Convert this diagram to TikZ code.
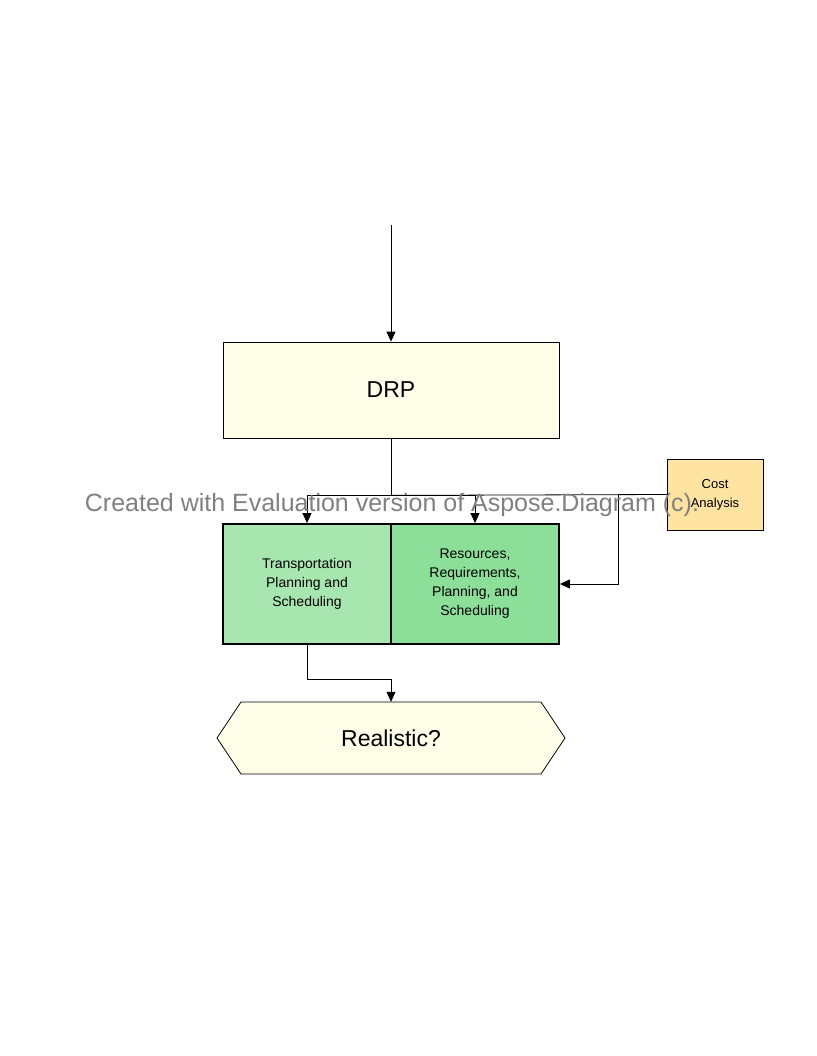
\documentclass[tikz,border=0pt]{standalone}
\usepackage{fontspec}
\setmainfont{Liberation Sans}
\usetikzlibrary{arrows.meta}
\definecolor{paleyellow}{HTML}{FEFEE8}
\definecolor{costorange}{HTML}{FFE3A0}
\definecolor{tgreen}{HTML}{A8E6B0}
\definecolor{rgreen}{HTML}{8CDF98}
\definecolor{wmgray}{HTML}{808080}
\tikzset{
  arr/.style={draw=black, line width=0.8pt, -{Triangle[length=10pt,width=9pt]}},
  conn/.style={draw=black, line width=0.8pt},
  thinbox/.style={draw=black, line width=0.8pt, inner sep=0pt, align=center},
  greenbox/.style={draw=black, line width=1.8pt, inner sep=0pt, align=center,
    minimum width=168pt, minimum height=120pt, font=\fontsize{14}{19}\selectfont},
  bigtext/.style={font=\fontsize{23}{27}\selectfont},
  watermark/.style={text=wmgray, font=\fontsize{25}{29}\selectfont, inner sep=0pt}
}
\begin{document}
\begin{tikzpicture}[x=1pt,y=-1pt]
\useasboundingbox[fill=white] (0,0) rectangle (816,1056);
% nodes
\node[thinbox, fill=paleyellow, minimum width=336pt, minimum height=96pt, bigtext] (drp) at (391,390) {DRP};
\node[greenbox, fill=tgreen] (tps) at (307,584) {Transportation\\Planning and\\ Scheduling};
\node[greenbox, fill=rgreen] (rrps) at (475,584) {Resources,\\Requirements,\\Planning, and\\Scheduling};
\node[thinbox, fill=costorange, minimum width=96pt, minimum height=71pt,
  font=\fontsize{13}{19}\selectfont] (cost) at (715,494.5) {Cost\\Analysis};
\node[inner sep=0pt, minimum width=348pt, minimum height=72pt] (real) at (391,738) {};
\fill[paleyellow] (217,738) -- (241,702) -- (541,702) -- (565,738) -- (541,774) -- (241,774) -- cycle;
\draw[line width=0.8pt] (217,738) -- (241,702) -- (541,702) -- (565,738) -- (541,774) -- (241,774) -- cycle;
\node[bigtext] at (real.center) {Realistic?};
\coordinate (top) at (391,225);
% connectors
\draw[arr] (top) -- (drp.north);
\draw[arr] (drp.south) -- ++(0,57) -| (tps.north);
\draw[arr] (drp.south) -- ++(0,57) -| (rrps.north);
\draw[conn] (drp.south) ++(0,57) -- (cost.west);
\draw[arr] (cost.west) -- ++(-48,0) |- (rrps.east);
\draw[arr] (tps.south) -- ++(0,34) -| (real.north);
% watermark
\node[watermark] (wm) at (392,505) {Created with Evaluation version of Aspose.Diagram (c).};
\end{tikzpicture}
\end{document}
